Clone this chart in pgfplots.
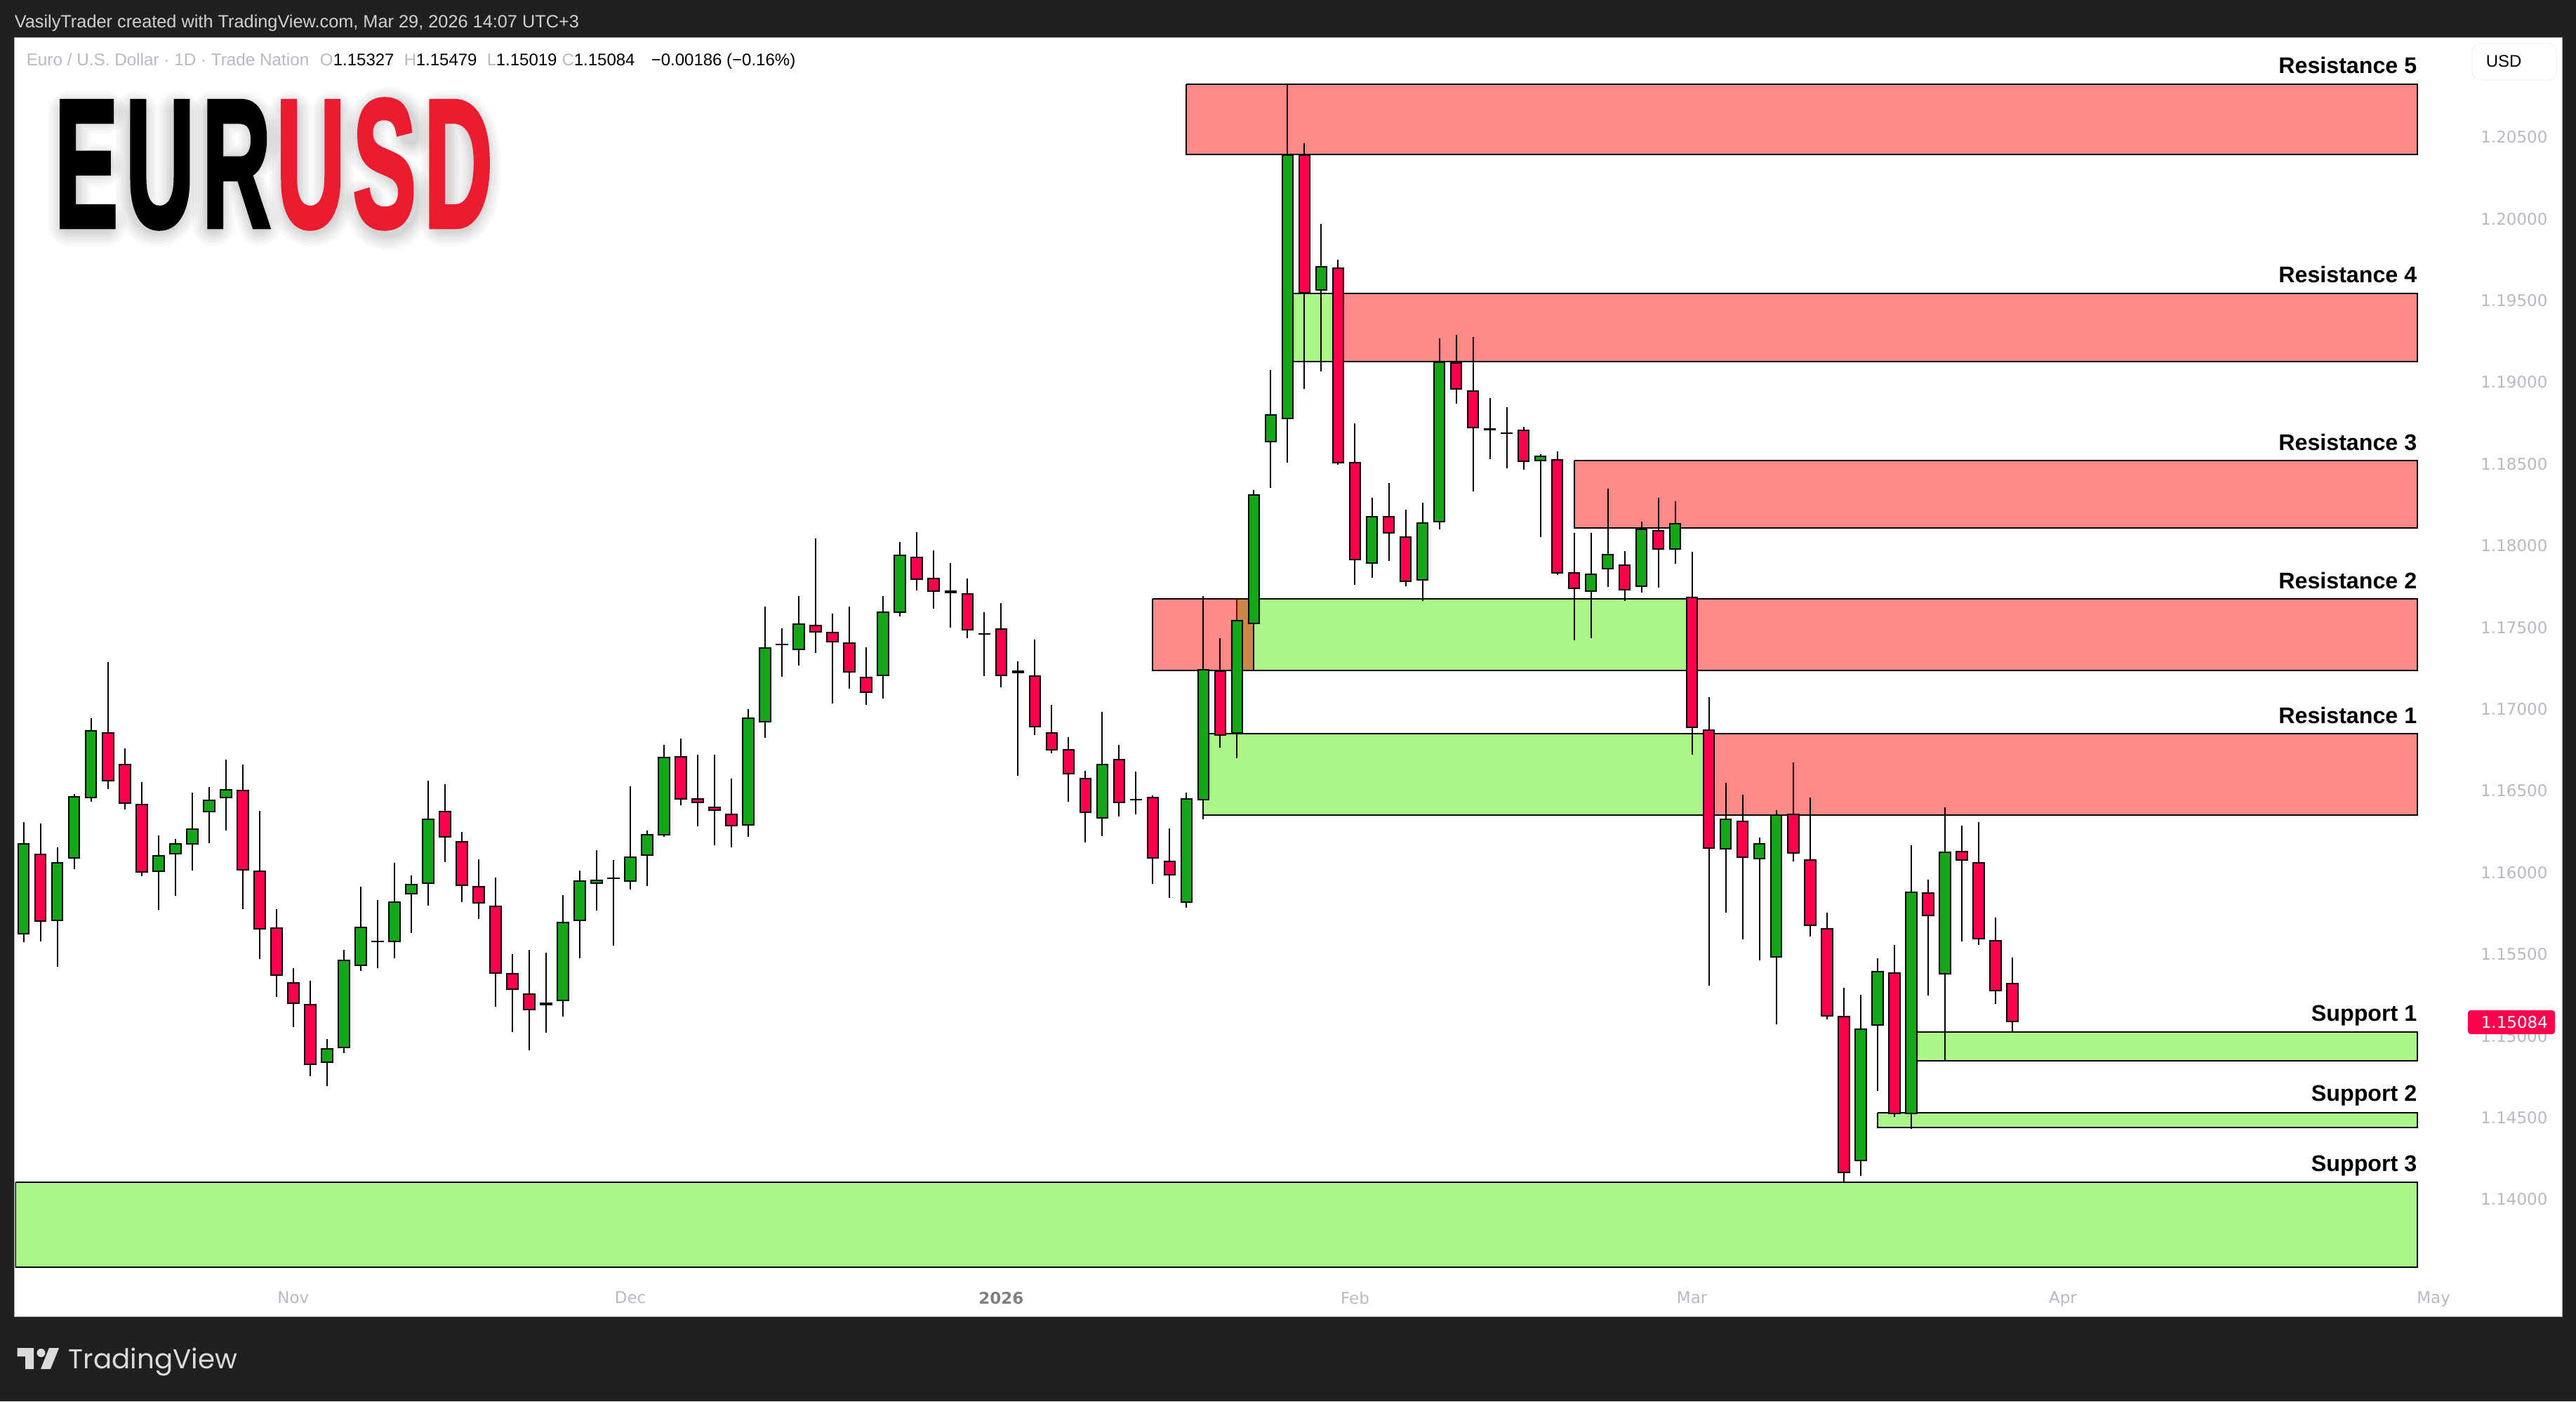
\documentclass[border=0pt]{standalone}
\usepackage{fontspec}
\usepackage{graphicx}
\usepackage{pgfplots}
\usepackage{pgfplotstable}
\usetikzlibrary{calc}
\pgfplotsset{compat=1.18}
\setmainfont{Liberation Sans}
\newfontfamily\tickfont{DejaVu Sans}
\newfontfamily\logofont[LetterSpace=8,BoldFeatures={FakeBold=2.5}]{Liberation Sans}
\newfontfamily\tvfont{Poppins}
\definecolor{bgdark}{HTML}{202020}
\definecolor{zoner}{HTML}{FD8A87}
\definecolor{zoneg}{HTML}{AAF68A}
\definecolor{zoneb}{HTML}{CC8648}
\definecolor{cg}{HTML}{12A618}
\definecolor{cr}{HTML}{FF004C}
\definecolor{tg}{HTML}{B7B9C3}
\definecolor{logored}{HTML}{EB1C30}
\definecolor{darkwick}{HTML}{7A0A0A}
\pgfplotstableread{
i H T B L
0 1.16309 1.16180 1.15622 1.15575
2 1.16154 1.16064 1.15703 1.15424
3 1.16481 1.16468 1.16085 1.16021
4 1.16944 1.16871 1.16455 1.16434
8 1.16227 1.16107 1.16004 1.15772
9 1.16206 1.16180 1.16111 1.15858
10 1.16489 1.16270 1.16171 1.16012
11 1.16524 1.16447 1.16369 1.16180
12 1.16691 1.16511 1.16455 1.16257
18 1.14981 1.14926 1.14836 1.14694
19 1.15527 1.15467 1.14926 1.14896
20 1.15913 1.15669 1.15428 1.15398
21 1.15832 1.15583 1.15575 1.15415
22 1.16059 1.15823 1.15575 1.15476
23 1.15982 1.15931 1.15866 1.15630
24 1.16562 1.16331 1.15931 1.15797
31 1.15510 1.15205 1.15188 1.15020
32 1.15862 1.15699 1.15213 1.15119
33 1.16012 1.15952 1.15703 1.15476
34 1.16137 1.15956 1.15931 1.15767
35 1.16077 1.15969 1.15961 1.15553
36 1.16528 1.16098 1.15943 1.15896
37 1.16257 1.16236 1.16102 1.15918
38 1.16781 1.16708 1.16227 1.16219
43 1.17000 1.16948 1.16288 1.16219
44 1.17628 1.17378 1.16918 1.16824
45 1.17495 1.17400 1.17392 1.17198
46 1.17693 1.17525 1.17361 1.17267
51 1.17693 1.17598 1.17202 1.17065
52 1.18023 1.17945 1.17589 1.17568
55 1.17894 1.17727 1.17710 1.17499
59 1.17293 1.17237 1.17220 1.16593
64 1.16983 1.16665 1.16331 1.16223
66 1.16618 1.16451 1.16442 1.16356
69 1.16489 1.16455 1.15815 1.15784
70 1.17693 1.17245 1.16442 1.16326
72 1.17675 1.17546 1.16850 1.16699
73 1.18341 1.18315 1.17521 1.17237
74 1.19075 1.18804 1.18633 1.18354
75 1.20823 1.20394 1.18774 1.18509
77 1.19968 1.19710 1.19561 1.19066
80 1.18293 1.18182 1.17890 1.17804
83 1.18263 1.18143 1.17787 1.17662
84 1.19269 1.19127 1.18143 1.18100
88 1.18847 1.18693 1.18685 1.18474
90 1.18560 1.18551 1.18517 1.18053
93 1.18079 1.17830 1.17718 1.17434
94 1.18350 1.17950 1.17856 1.17748
96 1.18147 1.18104 1.17748 1.17714
98 1.18272 1.18139 1.17975 1.17890
101 1.16550 1.16331 1.16141 1.15755
103 1.16214 1.16180 1.16081 1.15463
104 1.16382 1.16356 1.15480 1.15072
109 1.15252 1.15046 1.14234 1.14144
110 1.15476 1.15398 1.15063 1.14664
112 1.16167 1.15883 1.14522 1.14432
114 1.16399 1.16128 1.15377 1.14849
}\gtab
\pgfplotstableread{
i H T B L
1 1.16300 1.16115 1.15699 1.15579
5 1.17288 1.16858 1.16558 1.16511
6 1.16760 1.16665 1.16421 1.16386
7 1.16554 1.16421 1.15999 1.15978
13 1.16661 1.16507 1.16012 1.15776
14 1.16378 1.16012 1.15652 1.15471
15 1.15776 1.15665 1.15368 1.15239
16 1.15415 1.15330 1.15196 1.15054
17 1.15338 1.15196 1.14823 1.14754
25 1.16541 1.16378 1.16214 1.16064
26 1.16249 1.16193 1.15918 1.15819
27 1.16081 1.15918 1.15810 1.15716
28 1.15969 1.15797 1.15381 1.15179
29 1.15502 1.15386 1.15282 1.15024
30 1.15527 1.15261 1.15158 1.14913
39 1.16820 1.16712 1.16447 1.16412
40 1.16721 1.16455 1.16425 1.16283
41 1.16721 1.16404 1.16378 1.16167
42 1.16575 1.16361 1.16283 1.16154
47 1.18044 1.17516 1.17469 1.17344
48 1.17585 1.17473 1.17409 1.17034
49 1.17628 1.17409 1.17224 1.17125
50 1.17378 1.17198 1.17099 1.17026
53 1.18083 1.17932 1.17791 1.17727
54 1.17971 1.17804 1.17718 1.17615
56 1.17800 1.17710 1.17482 1.17434
57 1.17594 1.17464 1.17456 1.17202
58 1.17650 1.17495 1.17202 1.17133
60 1.17426 1.17207 1.16888 1.16841
61 1.17026 1.16858 1.16747 1.16729
62 1.16828 1.16755 1.16601 1.16434
63 1.16622 1.16580 1.16365 1.16184
65 1.16781 1.16695 1.16425 1.16343
67 1.16472 1.16463 1.16085 1.15931
68 1.16270 1.16072 1.15982 1.15845
71 1.17434 1.17237 1.16837 1.16764
76 1.20463 1.20394 1.19544 1.18959
78 1.19749 1.19702 1.18504 1.18495
79 1.18749 1.18513 1.17911 1.17761
81 1.18384 1.18182 1.18074 1.17907
82 1.18220 1.18057 1.17778 1.17753
85 1.19290 1.19122 1.18955 1.18869
86 1.19277 1.18950 1.18719 1.18332
87 1.18903 1.18719 1.18706 1.18530
89 1.18728 1.18710 1.18513 1.18466
91 1.18577 1.18530 1.17830 1.17821
92 1.18079 1.17839 1.17736 1.17421
95 1.17967 1.17886 1.17727 1.17662
97 1.18293 1.18096 1.17975 1.17744
99 1.17963 1.17688 1.16884 1.16721
100 1.17073 1.16876 1.16145 1.15308
102 1.16477 1.16318 1.16089 1.15592
105 1.16674 1.16361 1.16115 1.16068
106 1.16459 1.16081 1.15673 1.15609
107 1.15755 1.15660 1.15119 1.15102
108 1.15295 1.15123 1.14161 1.14109
111 1.15558 1.15390 1.14522 1.14505
113 1.15956 1.15879 1.15734 1.15248
115 1.16288 1.16132 1.16072 1.15579
116 1.16309 1.16064 1.15592 1.15558
117 1.15725 1.15588 1.15273 1.15196
118 1.15479 1.15327 1.15084 1.15019
}\rtab
\pgfplotsset{
  wick/.style={draw=none,forget plot,error bars/.cd,y dir=both,y explicit,error mark=none,
    error bar style={draw=black,line width=0.5pt}},
  bodyo/.style={draw=none,forget plot,error bars/.cd,y dir=minus,y explicit,error mark=none,
    error bar style={draw=black,line width=4.375pt}},
  bodyi/.style={draw=none,forget plot,error bars/.cd,y dir=minus,y explicit,error mark=none,
    error bar style={draw=#1,line width=3.375pt}},
  zoneline/.style={draw=black,line width=0.5pt,line join=miter,forget plot},
}
\newcommand\candles[1]{%
  \addplot[wick] table[x=i,y=T,y error plus expr=\thisrow{H}-\thisrow{T},y error minus expr=\thisrow{T}-\thisrow{L}] {#1};
}
\newcommand\bodies[2]{%
  \addplot[bodyo] table[x=i,y=T,y error minus expr=\thisrow{T}-\thisrow{B}] {#1};
  \addplot[bodyi=#2] table[x=i,y expr=\thisrow{T}-0.00009,y error minus expr={max(\thisrow{T}-\thisrow{B}-0.00018,0)}] {#1};
}
\begin{document}
\begin{tikzpicture}
\useasboundingbox (0,0) rectangle (917.5pt,499pt);
\fill[bgdark] (0,0) rectangle (917.5pt,499pt);
\begin{scope}[shift={(0pt,499pt)},x=0.25pt,y=-0.25pt]
\fill[white,draw=gray!70,line width=0.25pt] (20,54) rectangle (3650,1875);
\end{scope}
\begin{axis}[
  at={(5.425pt,42.775pt)},anchor=south west,
  scale only axis,width=870.35pt,height=442.325pt,
  xmin=-0.5,xmax=144.5,ymin=1.135,ymax=1.211,
  axis line style={draw=none},major tick length=0pt,
  ytick pos=right,yticklabel pos=right,xtick pos=bottom,
  ytick={1.14,1.145,1.15,1.155,1.16,1.165,1.17,1.175,1.18,1.185,1.19,1.195,1.2,1.205},
  yticklabels={1.14000,1.14500,1.15000,1.15500,1.16000,1.16500,1.17000,1.17500,1.18000,1.18500,1.19000,1.19500,1.20000,1.20500},
  xtick={16,36,58,79,99,121,143},
  xticklabels={Nov,Dec,{\bfseries\color{gray}2026},Feb,Mar,Apr,May},
  tick label style={font=\tickfont\fontsize{5.75pt}{6pt}\selectfont,text=tg,inner sep=0pt},
  yticklabel style={anchor=west,xshift=7.6pt},
  xticklabel style={anchor=north,yshift=-3.6pt},
]
% zones
\addplot[draw=none,fill=zoner,forget plot] coordinates {(69,1.20823)(142.04,1.20823)(142.04,1.20394)(69,1.20394)(69,1.20823)};
\addplot[draw=none,fill=zoneg,forget plot] coordinates {(75,1.19544)(78,1.19544)(78,1.19127)(75,1.19127)(75,1.19544)};
\addplot[draw=none,fill=zoner,forget plot] coordinates {(78,1.19544)(142.04,1.19544)(142.04,1.19127)(78,1.19127)(78,1.19544)};
\addplot[draw=none,fill=zoner,forget plot] coordinates {(92,1.18521)(142.04,1.18521)(142.04,1.18109)(92,1.18109)(92,1.18521)};
\addplot[draw=none,fill=zoner,forget plot] coordinates {(67,1.17675)(72,1.17675)(72,1.17237)(67,1.17237)(67,1.17675)};
\addplot[draw=none,fill=zoneb,forget plot] coordinates {(72,1.17675)(73,1.17675)(73,1.17237)(72,1.17237)(72,1.17675)};
\addplot[draw=none,fill=zoneg,forget plot] coordinates {(73,1.17675)(99,1.17675)(99,1.17237)(73,1.17237)(73,1.17675)};
\addplot[draw=none,fill=zoner,forget plot] coordinates {(99,1.17675)(142.04,1.17675)(142.04,1.17237)(99,1.17237)(99,1.17675)};
\addplot[draw=none,fill=zoneg,forget plot] coordinates {(70,1.16850)(100,1.16850)(100,1.16352)(70,1.16352)(70,1.16850)};
\addplot[draw=none,fill=zoner,forget plot] coordinates {(100,1.16850)(142.04,1.16850)(142.04,1.16352)(100,1.16352)(100,1.16850)};
\addplot[draw=none,fill=zoneg,forget plot] coordinates {(112,1.15024)(142.04,1.15024)(142.04,1.14849)(112,1.14849)(112,1.15024)};
\addplot[draw=none,fill=zoneg,forget plot] coordinates {(110,1.14531)(142.04,1.14531)(142.04,1.14440)(110,1.14440)(110,1.14531)};
\addplot[draw=none,fill=zoneg,forget plot] coordinates {(-0.5,1.14105)(142.04,1.14105)(142.04,1.13586)(-0.5,1.13586)(-0.5,1.14105)};
% zone outlines
\addplot[zoneline] coordinates {(69,1.20823)(142.04,1.20823)(142.04,1.20394)(69,1.20394)(69,1.20823)};
\addplot[zoneline] coordinates {(75,1.19544)(142.04,1.19544)(142.04,1.19127)(75,1.19127)(75,1.19544)};
\addplot[zoneline] coordinates {(92,1.18521)(142.04,1.18521)(142.04,1.18109)(92,1.18109)(92,1.18521)};
\addplot[zoneline] coordinates {(67,1.17675)(142.04,1.17675)(142.04,1.17237)(67,1.17237)(67,1.17675)};
\addplot[zoneline] coordinates {(70,1.16850)(142.04,1.16850)(142.04,1.16352)(70,1.16352)(70,1.16850)};
\addplot[zoneline] coordinates {(112,1.15024)(142.04,1.15024)(142.04,1.14849)(112,1.14849)(112,1.15024)};
\addplot[zoneline] coordinates {(110,1.14531)(142.04,1.14531)(142.04,1.14440)(110,1.14440)(110,1.14531)};
\addplot[zoneline] coordinates {(-0.5,1.14105)(142.04,1.14105)(142.04,1.13586)(-0.5,1.13586)(-0.5,1.14105)};
% candles
\candles{\gtab}
\candles{\rtab}
\addplot[draw=darkwick,line width=0.5pt,forget plot] coordinates {(72,1.17675)(72,1.17546)};
\bodies{\gtab}{cg}
\bodies{\rtab}{cr}
\end{axis}
\begin{scope}[shift={(0pt,499pt)},x=0.25pt,y=-0.25pt]
% header
\node[anchor=base west,inner sep=0pt,text=white!82!black,font=\fontsize{6.33pt}{7pt}\selectfont] at (20,40) {VasilyTrader created with TradingView.com, Mar 29, 2026 14:07 UTC+3};
\begin{scope}[every node/.style={anchor=base west,inner sep=0pt,font=\fontsize{6pt}{7pt}\selectfont}]
\node[text=tg,font=\fontsize{6.07pt}{7pt}\selectfont] at (37,94) {Euro / U.S. Dollar · 1D · Trade Nation};
\node[text=tg] at (455,94) {O}; \node[text=black] at (474,94) {1.15327};
\node[text=tg] at (575,94) {H}; \node[text=black] at (592,94) {1.15479};
\node[text=tg] at (693,94) {L}; \node[text=black] at (706,94) {1.15019};
\node[text=tg] at (800,94) {C}; \node[text=black] at (817,94) {1.15084};
\node[text=black] at (927,94) {−0.00186 (−0.16\%)};
\end{scope}
\draw[draw=black!6,fill=white,rounded corners=3pt,line width=0.25pt] (3522,62) rectangle (3642,114);
\node[anchor=base west,inner sep=0pt,text=black,font=\fontsize{6pt}{7pt}\selectfont] at (3541,96) {USD};
% labels
\begin{scope}[every node/.style={anchor=base east,inner sep=0pt,text=black,font=\bfseries\fontsize{8.05pt}{9pt}\selectfont}]
\node at (3444,105) {Resistance 5};
\node at (3444,403) {Resistance 4};
\node at (3444,641) {Resistance 3};
\node at (3444,838) {Resistance 2};
\node at (3444,1030) {Resistance 1};
\node at (3444,1454) {Support 1};
\node at (3444,1568) {Support 2};
\node at (3444,1668) {Support 3};
\end{scope}
% price tag
\fill[cr,rounded corners=1pt] (3516,1439) rectangle (3640,1473);
\node[anchor=west,inner sep=0pt,text=white,font=\tickfont\fontsize{5.75pt}{6pt}\selectfont] at (3534,1456) {1.15084};
% logo shadow (soft strokes, no text)
\begin{scope}[yshift=-2.5pt,black,draw opacity=0.028,line cap=round,line join=round]
\foreach \w in {15,13,11,9,7.5,6}{
 \draw[line width=\w pt] (150,150)--(99,150)--(99,310)--(150,310) (99,225)--(145,225);
 \draw[line width=\w pt] (195,150)--(195,270)..controls(195,325)and(254,325)..(254,270)--(254,150);
 \draw[line width=\w pt] (304,310)--(304,150)--(340,150)..controls(380,150)and(380,225)..(340,225)--(304,225) (340,225)--(370,310);
 \draw[line width=\w pt] (414,150)--(414,270)..controls(414,325)and(474,325)..(474,270)--(474,150);
 \draw[line width=\w pt] (585,185)..controls(585,130)and(520,130)..(520,185)..controls(520,230)and(585,230)..(585,275)..controls(585,330)and(520,330)..(520,275);
 \draw[line width=\w pt] (630,150)--(630,310)--(650,310)..controls(695,310)and(695,150)..(650,150)--cycle;
}
\end{scope}
\node[anchor=base west,inner sep=0pt,text=black,font=\logofont\bfseries\fontsize{65pt}{66pt}\selectfont] at (77,323) {\scalebox{0.522}[1]{EUR}};
\node[anchor=base west,inner sep=0pt,text=logored,font=\logofont\bfseries\fontsize{65pt}{66pt}\selectfont] at (393,323) {\scalebox{0.522}[1]{USD}};
% TradingView logo
\fill[white!86!black] (24.5,1920)--(48,1920)--(48,1950)--(36,1950)--(36,1932)--(24.5,1932)--cycle;
\fill[white!86!black] (58.5,1927) circle (6);
\fill[white!86!black] (70,1920)--(84,1920)--(72,1950)--(58,1950)--cycle;
\node[anchor=base west,inner sep=0pt,text=white!86!black,font=\tvfont\fontsize{9.7pt}{11pt}\selectfont] at (97,1949) {TradingView};
\end{scope}
\end{tikzpicture}
\end{document}
